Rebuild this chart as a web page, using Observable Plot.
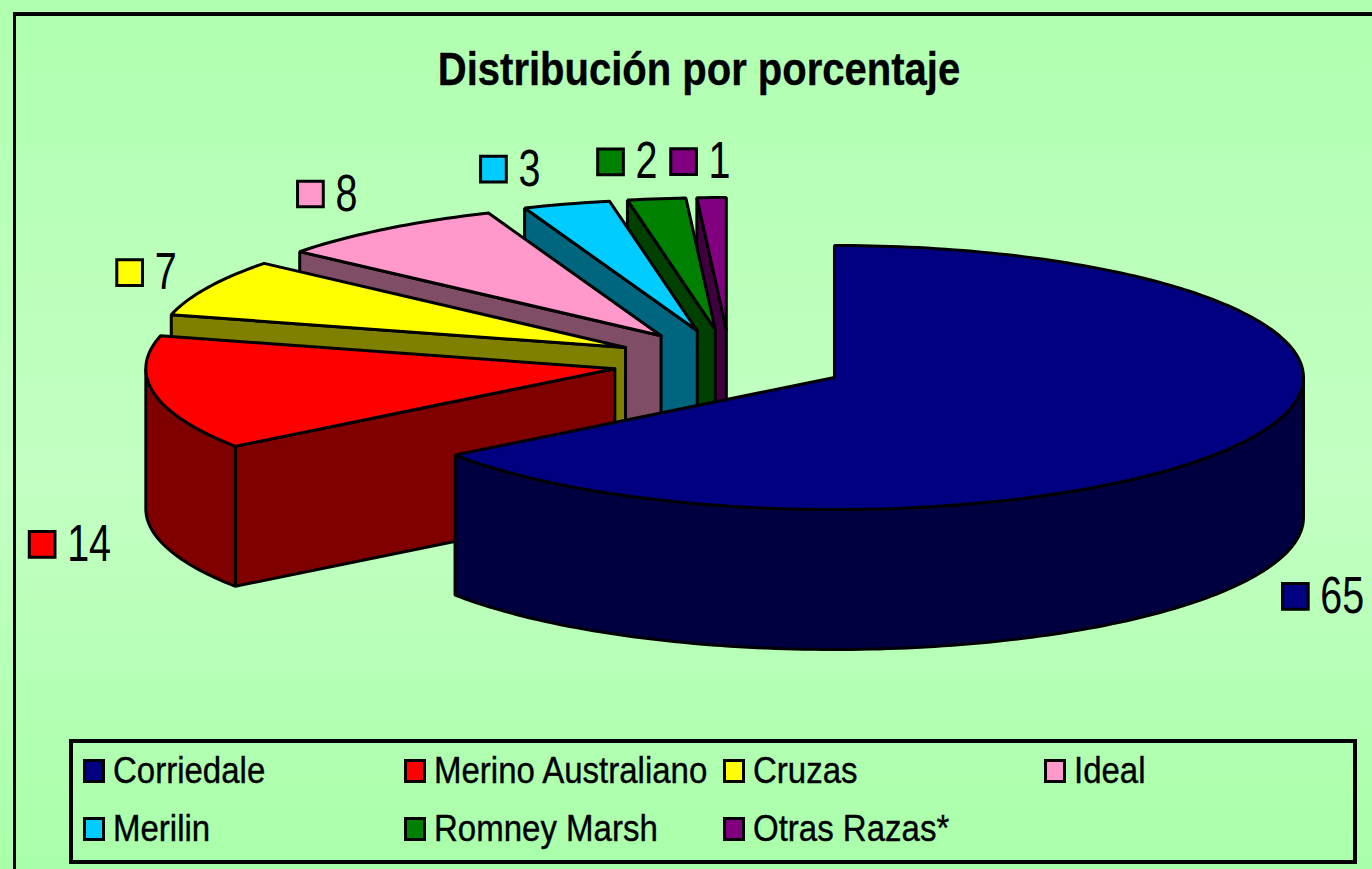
<!DOCTYPE html>
<html lang="es">
<head>
<meta charset="utf-8">
<script src="https://cdn.jsdelivr.net/npm/d3@7"></script>
<script src="https://cdn.jsdelivr.net/npm/@observablehq/plot@0.6"></script>
<style>
html,body{margin:0;padding:0;overflow:hidden}
#page{position:relative;width:1372px;height:869px;overflow:hidden;font-family:"Liberation Sans",Arial,sans-serif;color:#000;
  background:linear-gradient(#b0ffb0 0,#c3ffc3 55%,#a9ffa9 100%)}
#frame{position:absolute;left:13px;top:12px;width:1500px;height:1000px;border:solid #000;border-width:4px 0 0 3px;box-sizing:border-box}
#title{position:absolute;left:0;top:43px;width:1398px;text-align:center;font-weight:700;font-size:40px;line-height:52px;transform:scaleY(1.16);-webkit-text-stroke:.3px #000}
#chart{position:absolute;left:0;top:100px}
#chart svg{display:block;background:transparent}
#legend{position:absolute;left:69px;top:739px;width:1288px;height:125px;border:4px solid #000;box-sizing:border-box}
.sw{position:absolute;width:22px;height:24px;border:3px solid #000;box-sizing:border-box}
.lb{position:absolute;font-size:33px;line-height:36px;white-space:nowrap;transform:scaleY(1.1);transform-origin:0 100%;-webkit-text-stroke:.35px #000}
</style>
</head>
<body>
<div id="page">
  <div id="frame"></div>
  <div id="title">Distribución por porcentaje</div>
  <div id="chart"></div>
  <div id="legend"></div>
</div>
<script>
// Data
const categories = ["Corriedale", "Merino Australiano", "Cruzas", "Ideal", "Merilin", "Romney Marsh", "Otras Razas*"];
const values = [65, 14, 7, 8, 3, 2, 1];
const colors = ["#000080", "#ff0000", "#ffff00", "#ff99cc", "#00ccff", "#008000", "#800080"];

// Layout of the 3D pie (pixels per unit, pie centre, explosion, wall height)
const W = 1372, H = 630;
const rx = 469, ry = 132, cx = 729.5, cy = 262;
const explode = 0.25, depth = 140 / ry;
// Nudge of each label swatch from the slice's outer point, px
const labelNudge = [[43, 159], [-112, 151], [-78, -15], [-75, -35], [-73, -35], [-46, -37], [-28, -36]];

const arcs = d3.pie().sort(null).startAngle(0).endAngle(2 * Math.PI)(values);
const dark = c => { const k = d3.rgb(c); return d3.rgb(k.r / 2, k.g / 2, k.b / 2).formatHex(); };
const polys = [], labels = [];
// Painter's order: the slices nearest 12 o'clock first, the largest slice last
d3.range(arcs.length - 1, -1, -1).forEach(i => {
  const a = arcs[i];
  const s = a.startAngle, e = a.endAngle, m = (s + e) / 2;
  const ax = explode * Math.sin(m), ay = explode * Math.cos(m);
  const P = t => [ax + Math.sin(t), ay + Math.cos(t)];
  const arc = (t0, t1) => {
    const n = Math.max(2, Math.ceil((t1 - t0) / 0.02)), out = [];
    for (let k = 0; k <= n; k++) out.push(P(t0 + (t1 - t0) * k / n));
    return out;
  };
  const add = (part, pts, fill) => {
    const id = i + part;
    [...pts, pts[0]].forEach(p => polys.push({id, x: p[0], y: p[1], fill}));
  };
  const low = ([x, y]) => [x, y - depth];
  // walls
  if (s > Math.PI && s < 2 * Math.PI) add("s", [[ax, ay], P(s), low(P(s)), low([ax, ay])], dark(colors[i]));
  if (e > 0 && e < Math.PI) add("e", [[ax, ay], P(e), low(P(e)), low([ax, ay])], dark(colors[i]));
  const t0 = Math.max(s, Math.PI / 2), t1 = Math.min(e, 3 * Math.PI / 2);
  if (t1 > t0) { const c = arc(t0, t1); add("a", [...c, ...c.map(low).reverse()], dark(colors[i])); }
  // top
  add("t", [[ax, ay], ...arc(s, e)], colors[i]);
  const o = P(m);
  labels.push({x: o[0] + labelNudge[i][0] / rx, y: o[1] - labelNudge[i][1] / ry, value: values[i], fill: colors[i]});
});

const svg = Plot.plot({
  width: W, height: H, margin: 0,
  style: {background: "transparent", overflow: "visible"},
  x: {axis: null, domain: [-cx / rx, (W - cx) / rx], range: [0, W]},
  y: {axis: null, domain: [cy / ry, (cy - H) / ry], range: [0, H]},
  color: {type: "identity"},
  marks: [
    Plot.line(polys, {x: "x", y: "y", z: "id", fill: "fill", stroke: "#000", strokeWidth: 3, strokeLinejoin: "miter", curve: "linear"}),
    Plot.dot(labels, {x: "x", y: "y", symbol: "square", r: 14.5, fill: "fill", stroke: "#000", strokeWidth: 3}),
    Plot.text(labels, {x: "x", y: "y", text: d => String(d.value), dx: 25, textAnchor: "start", lineAnchor: "middle", fontSize: 52, fontFamily: "Liberation Sans", fill: "#000"})
  ]
});
// The reference's digits are taller than they are wide
d3.select(svg).selectAll("g[aria-label=text] text").each(function () {
  this.setAttribute("transform", (this.getAttribute("transform") || "") + " scale(0.76,1)");
});
document.getElementById("chart").append(svg);

// Legend: four columns, two rows
const colX = [10, 331, 650, 971], rowY = [16, 74];
const legend = d3.select("#legend");
categories.forEach((c, i) => {
  const x = colX[i % 4], y = rowY[Math.floor(i / 4)];
  legend.append("div").attr("class", "sw").style("left", x + "px").style("top", y + "px").style("background", colors[i]);
  legend.append("div").attr("class", "lb").style("left", (x + 30) + "px").style("top", (y - 4) + "px").text(c);
});
</script>
</body>
</html>
